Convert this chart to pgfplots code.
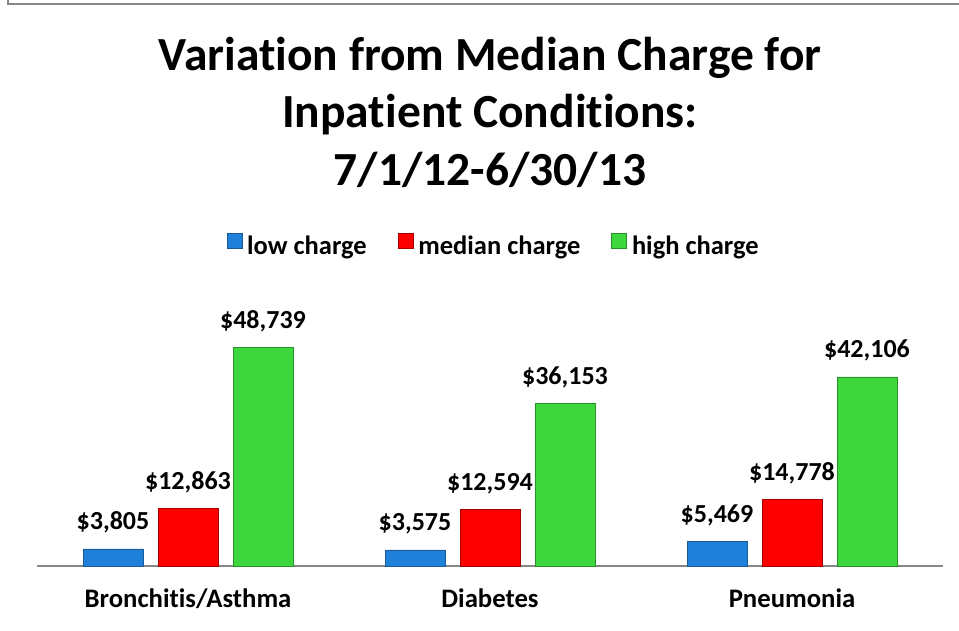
\documentclass[border=0pt]{standalone}
\usepackage{fontspec}
\setmainfont{Carlito}[Ligatures={NoCommon}]
\usepackage{pgfplots}
\pgfplotsset{compat=1.18}
\definecolor{cblue}{HTML}{1F80DA}
\definecolor{cbluedk}{HTML}{1A5A98}
\definecolor{cred}{HTML}{FF0000}
\definecolor{creddk}{HTML}{A80000}
\definecolor{cgreen}{HTML}{3DD63D}
\definecolor{cgreendk}{HTML}{27922A}
\definecolor{framec}{HTML}{878787}
\begin{document}
\begin{tikzpicture}[x=1pt,y=1pt]
\path[use as bounding box] (0,0) rectangle (959,630);
\draw[framec, line width=2pt] (8,632) -- (8,625.5) -- (961,625.5);
\tikzset{ttl/.style={font=\fontsize{47.5}{57}\selectfont\bfseries, anchor=base, inner sep=0pt}}
\node[ttl] at (490,559) {Variation from Median Charge for};
\node[ttl] at (490,502) {Inpatient Conditions:};
\node[ttl] at (490,444) {7/1/12-6/30/13};
\begin{axis}[
  at={(37pt,64pt)}, anchor=south west,
  scale only axis, width=906pt, height=269.4pt,
  xmin=-0.5, xmax=2.5, ymin=0, ymax=60000,
  ybar, bar width=60pt, clip=false,
  axis y line=none, axis x line*=bottom,
  x axis line style={-, draw=framec, line width=1.3pt},
  xtick={0,1,2}, xticklabels={Bronchitis/Asthma, Diabetes, Pneumonia},
  major tick length=0pt,
  xticklabel style={font=\fontsize{26.7}{32}\selectfont\bfseries, anchor=base, yshift=-41pt},
  nodes near coords={\$\pgfmathprintnumber{\pgfplotspointmeta}},
  every node near coord/.append style={font=\fontsize{26}{31}\selectfont\bfseries, anchor=base, yshift=19pt, black},
  /pgf/number format/fixed, /pgf/number format/precision=0,
  /pgf/number format/1000 sep={,}, /pgf/number format/assume math mode=true,
  legend columns=3,
  legend style={draw=none, fill=none, at={(rel axis cs:0.504,1.19)}, anchor=center,
    font=\fontsize{26.5}{31}\selectfont\bfseries,
    /tikz/every odd column/.append style={column sep=3pt},
    /tikz/every even column/.append style={column sep=29pt}},
  legend image code/.code={\draw[#1, line width=0.6pt] (0pt,-2pt) rectangle (15pt,13pt);},
]
\addplot[fill=cblue, draw=cbluedk, bar shift=-75pt] coordinates {(0,3805) (1,3575) (2,5469)};
\addlegendentry{low charge}
\addplot[fill=cred, draw=creddk, bar shift=0pt] coordinates {(0,12863) (1,12594) (2,14778)};
\addlegendentry{median charge}
\addplot[fill=cgreen, draw=cgreendk, bar shift=75pt] coordinates {(0,48739) (1,36153) (2,42106)};
\addlegendentry{high charge}
\end{axis}
\end{tikzpicture}
\end{document}
